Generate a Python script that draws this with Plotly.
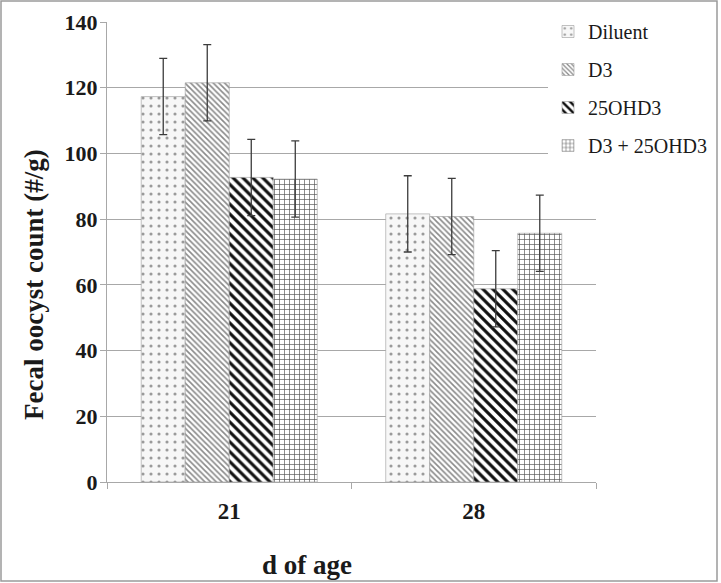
import plotly.graph_objects as go

days = ["21", "28"]
groups = ["Diluent", "D3", "25OHD3", "D3 + 25OHD3"]
means = {
    "Diluent": [117.3, 81.6],
    "D3": [121.5, 80.8],
    "25OHD3": [92.7, 58.8],
    "D3 + 25OHD3": [92.2, 75.7],
}
errs = {
    "Diluent": [11.6, 11.6],
    "D3": [11.6, 11.6],
    "25OHD3": [11.6, 11.6],
    "D3 + 25OHD3": [11.6, 11.6],
}
y_ticks = [0, 20, 40, 60, 80, 100, 120, 140]

styles = {
    "Diluent": dict(bg="#f7f7f7", fg="#9a9a9a", shape=".", size=8, sol=0.12),
    "D3": dict(bg="#ffffff", fg="#8a8a8a", shape="\\", size=4, sol=0.4),
    "25OHD3": dict(bg="#ffffff", fg="#111111", shape="\\", size=7, sol=0.45),
    "D3 + 25OHD3": dict(bg="#ffffff", fg="#555555", shape="+", size=5, sol=0.25),
}

SERIF = "Liberation Serif"

fig = go.Figure()
for g in groups:
    s = styles[g]
    fig.add_trace(go.Bar(
        name=g, x=days, y=means[g], legendgroup=g,
        marker=dict(color=s["bg"], line=dict(color="#9a9a9a", width=0.6),
                    pattern=dict(shape=s["shape"], fgcolor=s["fg"], bgcolor=s["bg"],
                                 fgopacity=1, size=s["size"], solidity=s["sol"],
                                 fillmode="overlay")),
        error_y=dict(type="data", array=errs[g], color="#3c3c3c", thickness=1.3, width=4),
    ))

# plot area: x 107..596, y 22..482 (px)
L, R, T, B = 107, 596, 22, 482
W, H = 721, 583
def px(x):
    return (x - L) / (R - L)
def py(y):
    return (B - y) / (B - T)

fig.update_layout(
    width=W, height=H,
    margin=dict(l=L, r=W - R, t=T, b=H - B, autoexpand=False),
    paper_bgcolor="white", plot_bgcolor="white",
    barmode="group", bargap=0.28, bargroupgap=0,
    font=dict(family=SERIF, color="#1a1a1a"),
    showlegend=True,
    legend=dict(x=px(548), y=py(12), xanchor="left", yanchor="top",
                bgcolor="white", font=dict(family=SERIF, size=20, color="#1a1a1a"),
                traceorder="grouped", tracegroupgap=9, itemwidth=30),
    xaxis=dict(type="category", showline=True, linecolor="#a8a8a8", linewidth=1.3,
               ticks="outside", tickson="boundaries", ticklen=6, tickcolor="#a8a8a8",
               tickfont=dict(family=SERIF, size=23, weight="bold", color="#1a1a1a"),
               ticklabelstandoff=8, showgrid=False),
    yaxis=dict(range=[0, 140], tickvals=y_ticks, showline=True, linecolor="#a8a8a8",
               linewidth=1.3, ticks="outside", ticklen=6, tickcolor="#a8a8a8",
               gridcolor="#a8a8a8", gridwidth=1, zeroline=False, ticklabelstandoff=-2,
               tickfont=dict(family=SERIF, size=22, weight="bold", color="#1a1a1a")),
)

fig.add_annotation(text="Fecal oocyst count (#/g)", xref="paper", yref="paper",
                   x=px(34), y=py(285), xanchor="center", yanchor="middle",
                   textangle=-90, showarrow=False,
                   font=dict(family=SERIF, size=27, weight="bold", color="#1a1a1a"))
fig.add_annotation(text="d of age", xref="paper", yref="paper",
                   x=px(307), y=py(565), xanchor="center", yanchor="middle",
                   showarrow=False,
                   font=dict(family=SERIF, size=27, weight="bold", color="#1a1a1a"))

fig.add_shape(type="rect", xref="paper", yref="paper",
              x0=px(1), x1=px(717), y0=py(581), y1=py(1),
              line=dict(color="#9a9a9a", width=1.5), fillcolor="rgba(0,0,0,0)", layer="above")

fig.write_html("out.html", config={"displayModeBar": False},
               post_script="document.body.style.margin='0';document.body.style.overflow='hidden';")
